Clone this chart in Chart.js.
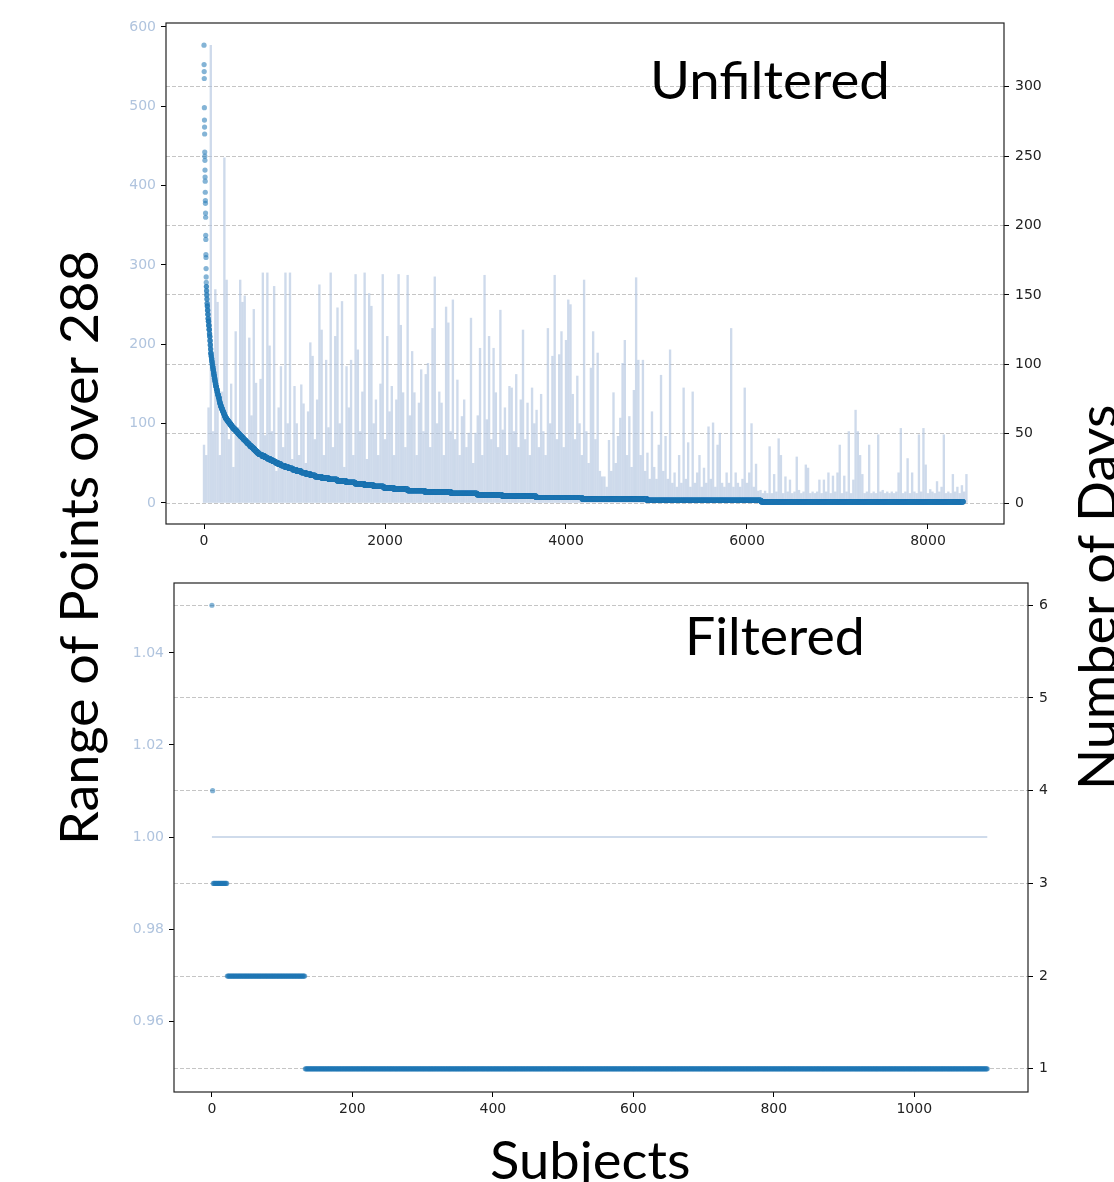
<!DOCTYPE html>
<html><head><meta charset="utf-8">
<script src="https://cdn.jsdelivr.net/npm/chart.js@4.4.0/dist/chart.umd.min.js"></script>
<style>
html,body{margin:0;padding:0;background:#fff;width:1114px;height:1182px;overflow:hidden;position:relative;}
.box{position:absolute;}
.big{position:absolute;font-family:Lato,'Open Sans',sans-serif;font-size:53px;line-height:1;white-space:nowrap;color:#000;transform-origin:left top;}
</style></head><body>
<div class="box" style="left:100px;top:0;width:1000px;height:560px"><canvas id="topChart"></canvas></div>
<div class="box" style="left:100px;top:560px;width:1000px;height:572px"><canvas id="botChart"></canvas></div>
<div class="big" id="tUnf">Unfiltered</div>
<div class="big" id="tFil">Filtered</div>
<div class="big" id="tSub">Subjects</div>
<div class="big" id="tRange">Range of Points over 288</div>
<div class="big" id="tDays">Number of Days</div>
<script>
// ---------- DATA ----------
// Unfiltered: number of days per subject (sorted descending), as value levels and how many subjects have each
const daysLevels = [330,316,311,306,285,276,271,266,253,250,247,240,235,232,224,218,216,209,206,193,190,179,177,169,163,
159,156,153,150,147,144,142,139,136,133,131,128,125,122,120,117,114,111,108,106,104,102,100,98,96,94,92,90,88,86,84,82,80,78,76,
74,73,72,71,70,69,68,67,66,65,64,63,62,61,60,59,58,57,56,55,54,53,52,51,50,49,48,47,46,45,44,43,42,41,40,39,38,37,36,35,34,33,32,31,30,
29,28,27,26,25,24,23,22,21,20,19,18,17,16,15,14,13,12,11,10,9,8,7,6,5,4,3,2,1];
const daysCounts = [1,1,1,1,1,1,1,1,1,1,1,1,1,1,1,1,1,1,1,1,1,1,1,1,1,
1,2,2,2,2,2,3,3,3,3,4,4,4,3,3,3,3,3,4,4,4,4,4,5,5,5,5,5,5,6,7,7,7,8,8,
4,4,4,5,5,6,6,6,7,6,6,6,7,11,11,11,12,11,12,12,15,15,15,12,13,15,15,15,15,15,15,15,15,18,17,15,15,15,20,30,30,30,30,30,30,
30,33,40,42,45,45,50,50,50,55,70,80,90,100,100,100,105,110,115,150,190,290,288,276,376,508,718,1260,2234];
// Unfiltered: range of points over 288, read every 25th subject
const rangeStep = 25;
const rangeValues = [
73,60,120,577,90,269,253,60,140,435,
281,80,150,45,216,95,281,253,261,70,
208,110,244,151,60,156,290,85,290,198,
90,273,40,120,172,70,290,100,290,55,
147,100,60,149,125,50,115,202,185,80,
130,275,218,60,180,95,290,70,210,246,
100,254,45,172,120,180,60,288,193,90,
140,290,55,264,248,100,130,60,150,288,
80,210,115,147,60,130,288,224,139,70,
287,110,191,139,60,126,168,90,162,176,
70,220,285,100,140,126,60,247,227,90,
256,80,155,60,109,130,70,88,233,50,
88,110,195,60,287,105,210,80,195,139,
70,243,92,120,60,147,145,90,162,70,
130,218,80,126,60,145,100,117,70,137,
90,60,220,100,185,287,80,187,216,70,
205,256,250,137,80,160,100,60,281,90,
50,170,216,80,189,40,33,33,20,79,
40,139,50,84,107,176,205,60,109,45,
142,284,180,60,180,40,63,30,115,45,
30,73,161,40,84,30,193,25,38,20,
60,25,145,30,76,20,140,25,38,60,
20,44,25,96,30,101,20,73,88,25,
20,38,25,220,20,38,25,20,30,145,
25,38,100,20,49,15,16,12,15,12,
71,12,36,14,81,60,12,33,14,29,
12,14,58,16,12,14,48,44,12,14,
12,14,29,12,29,14,38,12,34,14,
38,73,12,34,14,90,12,29,117,90,
60,36,12,14,73,12,14,12,86,14,
16,12,14,12,14,12,14,38,94,12,
14,56,12,38,14,12,86,14,94,48,
12,17,14,12,27,14,20,86,12,14,
12,36,14,20,12,22,14,36];
// Filtered: number of days per subject (sorted descending)
const filtDaysLevels = [6,4,3,2,1];
const filtDaysCounts = [1,1,20,111,972];
// Filtered: range of points over 288
const filtRangeLevels = [1.00];
const filtRangeCounts = [1105];
// Tick labels
const topXTicks = [0,2000,4000,6000,8000];
const topLeftTicks = [0,100,200,300,400,500,600];
const topRightTicks = [0,50,100,150,200,250,300];
const botXTicks = [0,200,400,600,800,1000];
const botLeftTicks = [0.96,0.98,1.00,1.02,1.04];
const botRightTicks = [1,2,3,4,5,6];

// ---------- HELPERS ----------
function expandRuns(levels, counts){ const pts=[]; let i=0; levels.forEach((v,j)=>{ for(let c=0;c<counts[j];c++) pts.push({x:i++, y:v}); }); return pts; }
function stepped(values, step){ return values.map((v,k)=>({x:k*step, y:v})); }
const tickFont = {family:'DejaVu Sans', size:14};
const framePlugin = { id:'frame', afterDatasetsDraw(chart){ const {ctx, chartArea:a}=chart; ctx.save(); ctx.strokeStyle='#222'; ctx.lineWidth=1.2; ctx.strokeRect(a.left, a.top, a.right-a.left, a.bottom-a.top); ctx.restore(); } };
function setTicks(list){ return s => { s.ticks = list.map(v=>({value:v})); }; }
function tickGrid(){ return {drawOnChartArea:false, color:'#000', tickColor:'#000', tickLength:5, tickWidth:1}; }

function rangeDataset(o){
  if(o.bars) return {type:'bar', data:o.range, yAxisID:'y', xAxisID:'x', barThickness:1.7, grouped:false,
    backgroundColor:'rgba(176,196,222,0.62)', borderWidth:0};
  return {data:o.range, yAxisID:'y', showLine:true, pointRadius:0, borderColor:'rgba(176,196,222,0.8)', borderWidth:1.5, fill:false, tension:0};
}

function makeChart(id, o){
  return new Chart(document.getElementById(id), {
    type:'scatter',
    data:{datasets:[
      {data:o.days, yAxisID:'y1', pointRadius:o.r, pointBackgroundColor:'rgba(31,119,180,0.55)', pointBorderWidth:0, showLine:false},
      rangeDataset(o)
    ]},
    options:{
      responsive:true, maintainAspectRatio:false, animation:false, events:[],
      layout:{padding:{top:23,left:0,right:0,bottom:0}},
      plugins:{legend:{display:false}, tooltip:{enabled:false}},
      scales:{
        x:{type:'linear', offset:false, min:o.xmin, max:o.xmax, afterBuildTicks:setTicks(o.xt), afterFit:s=>{s.height=o.xh;},
           grid:Object.assign(tickGrid(),{offset:false}), border:{display:false}, ticks:{color:'#222', font:tickFont, padding:4, autoSkip:false, maxRotation:0, callback:v=>String(v)}},
        y:{type:'linear', position:'left', min:o.ymin, max:o.ymax, afterBuildTicks:setTicks(o.yt), afterFit:s=>{s.width=o.yw;},
           grid:tickGrid(), border:{display:false}, ticks:{color:'#b0c4de', font:tickFont, padding:5, autoSkip:false, callback:o.yfmt}},
        y1:{type:'linear', position:'right', min:o.y1min, max:o.y1max, afterBuildTicks:setTicks(o.y1t), afterFit:s=>{s.width=o.y1w;},
           grid:{drawOnChartArea:true, color:'rgba(150,150,150,0.55)', lineWidth:1, tickColor:'#000', tickLength:5, tickWidth:1, tickBorderDash:[5,0]},
           border:{display:false, dash:[4,2]}, ticks:{color:'#222', font:tickFont, padding:6, autoSkip:false}}
      }
    },
    plugins:[framePlugin]
  });
}

makeChart('topChart', {
  days:expandRuns(daysLevels, daysCounts), range:stepped(rangeValues, rangeStep), r:2.6, bars:true,
  xmin:-420, xmax:8840, xt:topXTicks, xh:36,
  ymin:-26.5, ymax:605, yt:topLeftTicks, yw:66, yfmt:v=>String(v),
  y1min:-15.1, y1max:346, y1t:topRightTicks, y1w:96
});
makeChart('botChart', {
  days:expandRuns(filtDaysLevels, filtDaysCounts), range:expandRuns(filtRangeLevels, filtRangeCounts), r:2.6, bars:false,
  xmin:-54, xmax:1162, xt:botXTicks, xh:40,
  ymin:0.9446, ymax:1.0552, yt:botLeftTicks, yw:74, yfmt:v=>Number(v).toFixed(2),
  y1min:0.75, y1max:6.24, y1t:botRightTicks, y1w:72
});

// ---------- BIG LABELS ----------
function placeText(id, o){
  const el=document.getElementById(id); el.style.fontSize=o.size+'px'; el.style.transform='none';
  const w=el.offsetWidth; const s=o.width/w;
  if(o.rotate){ el.style.left=(o.capX-0.1705*o.size)+'px'; el.style.top=o.startY+'px'; el.style.transform='rotate(-90deg) scaleX('+s+')'; }
  else { el.style.left=o.x+'px'; el.style.top=(o.baseY-0.887*o.size)+'px'; el.style.transform='scaleX('+s+')'; }
}
function layoutText(){
  placeText('tUnf',{size:53, x:650, baseY:99, width:240});
  placeText('tFil',{size:53, x:685, baseY:655, width:180});
  placeText('tSub',{size:53, x:490, baseY:1179, width:200});
  placeText('tRange',{size:53, rotate:true, capX:60, startY:845, width:595});
  placeText('tDays',{size:53, rotate:true, capX:1078, startY:790, width:385});
}
layoutText();
if(document.fonts && document.fonts.ready) document.fonts.ready.then(layoutText);
</script>
</body></html>
